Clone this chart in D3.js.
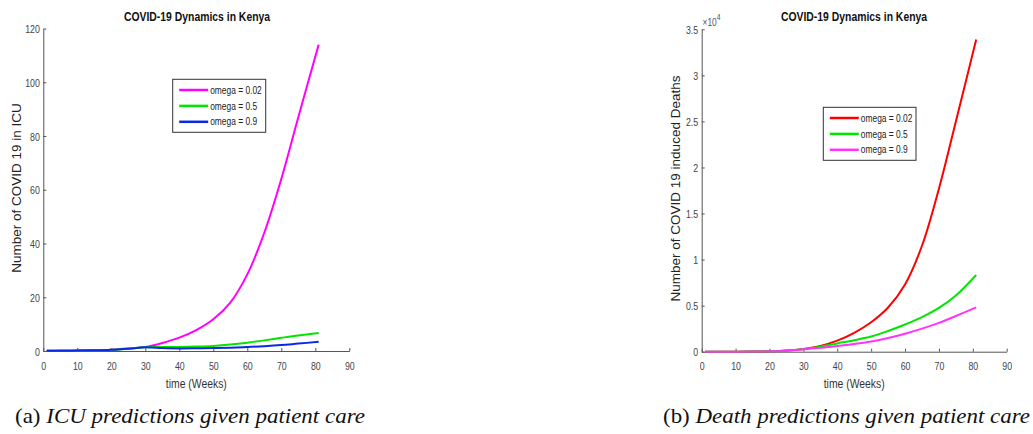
<!DOCTYPE html>
<html>
<head>
<meta charset="utf-8">
<script src="https://cdn.jsdelivr.net/npm/d3@7"></script>
<style>
  html, body { margin: 0; padding: 0; background: #fff; }
  svg { display: block; }
</style>
</head>
<body>
<svg id="fig" width="1033" height="434"></svg>
<script>
// Simulation output sampled by week
const weeks = [1, 5, 10, 15, 20, 25, 30, 35, 40, 45, 50, 55, 60, 65, 70, 75, 81];

// ICU occupancy for each omega
const icuOmega002 = [0.1, 0.15, 0.2, 0.3, 0.5, 0.9, 1.5, 3, 5, 7.8, 11.8, 18, 28.5, 44, 64, 87, 114];
const icuOmega05  = [0.1, 0.12, 0.15, 0.25, 0.45, 0.85, 1.4, 1.45, 1.5, 1.65, 1.9, 2.4, 3.1, 3.95, 4.9, 5.8, 6.7];
const icuOmega09  = [0.1, 0.12, 0.15, 0.25, 0.45, 0.85, 1.35, 1.1, 0.95, 1.0, 1.1, 1.25, 1.5, 1.8, 2.2, 2.75, 3.4];

// Cumulative COVID-19 induced deaths for each omega
const deathsOmega002 = [0, 0, 5, 15, 40, 120, 300, 620, 1200, 2050, 3200, 4800, 7300, 11500, 17700, 25000, 33900];
const deathsOmega05  = [0, 0, 5, 15, 40, 120, 280, 550, 900, 1250, 1650, 2250, 2950, 3750, 4750, 6100, 8330];
const deathsOmega09  = [0, 0, 5, 15, 40, 110, 260, 420, 620, 830, 1100, 1480, 1950, 2500, 3130, 3880, 4820];

// Axis ticks
const weekTicks = [0, 10, 20, 30, 40, 50, 60, 70, 80, 90];
const icuTicks = [0, 20, 40, 60, 80, 100, 120];
const deathTicks = [0, 5000, 10000, 15000, 20000, 25000, 30000, 35000];
const deathTickLabels = ["0", "0.5", "1", "1.5", "2", "2.5", "3", "3.5"];

const legendLabels = ["omega = 0.02", "omega = 0.5", "omega = 0.9"];

const SANS = '"Liberation Sans", Arial, Helvetica, sans-serif';
const SERIF = '"Liberation Serif", "Times New Roman", Times, serif';

const svg = d3.select("#fig");
const NARROW = 0.8;   // horizontal squeeze for the plot typeface
const AXIS_COLOR = "#555";
const TICK_TEXT = "#444";

function narrowText(sel, x, y, str, opts) {
  return sel.append("text")
    .attr("transform", `translate(${x},${y}) scale(${NARROW},1)`)
    .attr("text-anchor", opts.anchor || "middle")
    .style("font-family", SANS)
    .attr("font-size", opts.size)
    .attr("font-weight", opts.weight || "normal")
    .attr("fill", opts.fill || "#222")
    .text(str);
}

function drawPanel(cfg) {
  const g = svg.append("g");
  const x = d3.scaleLinear().domain([0, 90]).range([cfg.left, cfg.right]);
  const y = d3.scaleLinear().domain([0, cfg.yMax]).range([cfg.bottom, cfg.top]);

  // x axis with inward ticks
  const xa = g.append("g").attr("transform", `translate(0,${cfg.bottom})`)
    .call(d3.axisBottom(x).tickValues(weekTicks).tickSizeInner(-3).tickSizeOuter(0).tickFormat(d3.format("d")));
  // y axis with inward ticks
  const ya = g.append("g").attr("transform", `translate(${cfg.left},0)`)
    .call(d3.axisLeft(y).tickValues(cfg.yTicks).tickSizeInner(-3).tickSizeOuter(0)
      .tickFormat((d, i) => cfg.yLabels[i]));

  [xa, ya].forEach(a => {
    a.select(".domain").attr("stroke", AXIS_COLOR);
    a.selectAll(".tick line").attr("stroke", AXIS_COLOR);
    a.selectAll(".tick text").attr("fill", TICK_TEXT).attr("font-size", 11)
      .style("font-family", SANS);
  });
  xa.selectAll(".tick text").attr("y", 0).attr("dy", 0)
    .attr("transform", `translate(0,18.5) scale(${NARROW},1)`);
  ya.selectAll(".tick text").attr("x", 0).attr("dy", 0)
    .attr("transform", `translate(-3.5,4) scale(${NARROW},1)`);

  // curves
  const line = d3.line().curve(d3.curveCatmullRom.alpha(0.5))
    .x((d, i) => x(weeks[i])).y(d => y(d));
  cfg.series.forEach(s => {
    g.append("path").datum(s.values)
      .attr("fill", "none").attr("stroke", s.color).attr("stroke-width", 2)
      .attr("stroke-linejoin", "round").attr("d", line);
  });

  // title and axis labels
  const midX = (cfg.left + cfg.right) / 2;
  narrowText(g, cfg.titleX, 21, "COVID-19 Dynamics in Kenya", { size: 13, weight: "bold", fill: "#111" });
  narrowText(g, midX, 388, "time (Weeks)", { size: 13, fill: "#333" });
  g.append("text")
    .attr("transform", `translate(${cfg.yLabelX},${cfg.yLabelY}) rotate(-90)`)
    .attr("text-anchor", "middle").style("font-family", SANS)
    .attr("font-size", 13.5).attr("fill", "#222")
    .text(cfg.yTitle);

  // legend
  const lg = g.append("g");
  lg.append("rect").attr("x", cfg.legend.x).attr("y", cfg.legend.y)
    .attr("width", cfg.legend.w).attr("height", cfg.legend.h)
    .attr("fill", "#fff").attr("stroke", "#333").attr("stroke-width", 1);
  cfg.series.forEach((s, i) => {
    const ly = cfg.legend.y + 10.7 + i * 15.9;
    lg.append("line").attr("x1", cfg.legend.x + 6.5).attr("x2", cfg.legend.x + 35.5)
      .attr("y1", ly).attr("y2", ly).attr("stroke", s.color).attr("stroke-width", 2.5);
    narrowText(lg, cfg.legend.x + 37.5, ly + 3.6, legendLabels[i], { size: 10.5, anchor: "start", fill: "#222" });
  });
  return { g, x, y };
}

drawPanel({
  left: 43.3, right: 349.3, top: 28.5, bottom: 351,
  yMax: 120, yTicks: icuTicks, yLabels: icuTicks.map(String),
  titleX: 197, yLabelX: 20.5, yLabelY: 188,
  yTitle: "Number of COVID 19 in ICU",
  legend: { x: 172.7, y: 79.3, w: 93, h: 53 },
  series: [
    { values: icuOmega002, color: "#ff00ff" },
    { values: icuOmega05, color: "#00e600" },
    { values: icuOmega09, color: "#0a28e6" }
  ]
});

const right = drawPanel({
  left: 701.7, right: 1006.7, top: 29.3, bottom: 351.7,
  yMax: 35000, yTicks: deathTicks, yLabels: deathTickLabels,
  titleX: 854, yLabelX: 680, yLabelY: 188.5,
  yTitle: "Number of COVID 19 induced Deaths",
  legend: { x: 823.3, y: 107.3, w: 92.7, h: 53 },
  series: [
    { values: deathsOmega002, color: "#ff0000" },
    { values: deathsOmega05, color: "#00e600" },
    { values: deathsOmega09, color: "#ff33ff" }
  ]
});

// exponent marker on the deaths axis
const ex = right.g.append("text")
  .attr("transform", `translate(702.5,25.5) scale(${NARROW},1)`)
  .style("font-family", SANS)
  .attr("font-size", 10.5).attr("fill", "#555");
ex.append("tspan").text("\u00d710");
ex.append("tspan").attr("dy", -6).attr("font-size", 8.5).text("4");

// sub-figure captions
function caption(x, label, body, width) {
  const t = svg.append("text").attr("x", x).attr("y", 423)
    .style("font-family", SERIF)
    .attr("font-size", 21).attr("fill", "#111");
  t.append("tspan").text(label + " ");
  t.append("tspan").attr("font-style", "italic").text(body);
  const w = t.node().getComputedTextLength();
  if (Math.abs(w - width) > 2) t.attr("textLength", width).attr("lengthAdjust", "spacingAndGlyphs");
}
caption(15, "(a)", "ICU predictions given patient care", 350);
caption(663, "(b)", "Death predictions given patient care", 367);
</script>
</body>
</html>
